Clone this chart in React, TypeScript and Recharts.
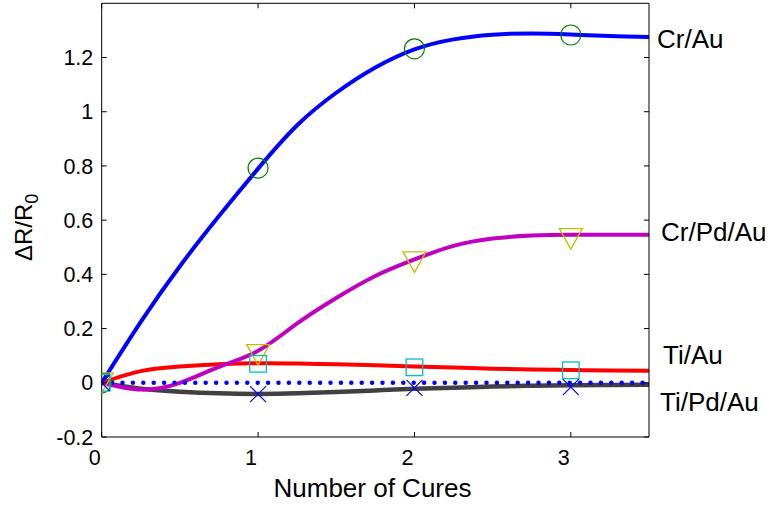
import React from 'react';
import { ComposedChart, Line, Scatter, XAxis, YAxis, ReferenceDot } from 'recharts';

const FONT = '"Liberation Sans", Arial, Helvetica, sans-serif';

// smooth fit curves, sampled every 0.25 cure
const fitX = [0, 0.25, 0.5, 0.75, 1, 1.25, 1.5, 1.75, 2, 2.25, 2.5, 2.75, 3, 3.25, 3.5];
const crAuFit = [0, 0.225, 0.43, 0.615, 0.79, 0.95, 1.07, 1.163, 1.23, 1.267, 1.284, 1.289, 1.285, 1.279, 1.276];
const crPdAuFit = [0, -0.025, 0.0, 0.059, 0.118, 0.219, 0.313, 0.394, 0.455, 0.505, 0.532, 0.543, 0.546, 0.546, 0.546];
const tiAuFit = [0, 0.043, 0.06, 0.068, 0.072, 0.071, 0.068, 0.065, 0.06, 0.056, 0.052, 0.049, 0.047, 0.045, 0.044];
const tiPdAuFit = [0, -0.022, -0.033, -0.039, -0.041, -0.039, -0.034, -0.028, -0.022, -0.018, -0.014, -0.011, -0.009, -0.008, -0.007];
const zeroX = [0, 3.5];
const zeroY = [0, 0];

// measured points
const cureX = [0, 1, 2, 3];
const crAuPts = [0, 0.792, 1.232, 1.283];
const crPdAuPts = [0, 0.104, 0.446, 0.532];
const tiAuPts = [0, 0.07, 0.057, 0.046];
const tiPdAuPts = [0, -0.042, -0.019, -0.016];

const xTicks = [0, 1, 2, 3];
const yTicks = [-0.2, 0, 0.2, 0.4, 0.6, 0.8, 1, 1.2];

const names = ['Cr/Au', 'Cr/Pd/Au', 'Ti/Au', 'Ti/Pd/Au'];
const nameY = [1.27, 0.557, 0.102, -0.072];
const nameDx = [8, 12, 14, 11];

const toRows = (xs: number[], ys: number[]) => xs.map((x, i) => ({ x, y: ys[i] }));

const Circle = (p: any) => <circle cx={p.cx} cy={p.cy} r={10} fill="none" stroke="#008000" strokeWidth={1.2} />;
const TriDown = (p: any) => (
  <polygon
    points={`${p.cx - 11.5},${p.cy - 10} ${p.cx + 11.5},${p.cy - 10} ${p.cx},${p.cy + 10.5}`}
    fill="none"
    stroke="#bfbf00"
    strokeWidth={1.3}
  />
);
const Square = (p: any) => (
  <rect x={p.cx - 8.3} y={p.cy - 8.3} width={16.6} height={16.6} fill="none" stroke="#00bfbf" strokeWidth={1.3} />
);
const Cross = (p: any) => (
  <path
    d={`M${p.cx - 8},${p.cy - 8}L${p.cx + 8},${p.cy + 8}M${p.cx - 8},${p.cy + 8}L${p.cx + 8},${p.cy - 8}`}
    stroke="#0000ff"
    strokeWidth={1.2}
  />
);

const XTitle = () => (
  <text x={372.5} y={497} textAnchor="middle" fontSize={26} fontFamily={FONT} fill="#000">
    Number of Cures
  </text>
);

const YTitle = () => (
  <text transform="translate(32,261) rotate(-90)" fontSize={24} fontFamily={FONT} fill="#000">
    ΔR/R
    <tspan fontSize={18} dy={6}>0</tspan>
  </text>
);

const tickStyle = { fontSize: 21.5, fill: '#000', fontFamily: FONT };
const noLabel = () => '';

const App = (): React.ReactElement => {
  return (
    <div style={{ position: 'absolute', left: 0, top: 0 }}>
      <ComposedChart width={773} height={506} margin={{ top: 2.3, right: 123, left: 0, bottom: 0 }}>
        <XAxis
          xAxisId={0}
          type="number"
          dataKey="x"
          domain={[0, 3.5]}
          ticks={xTicks}
          interval={0}
          allowDataOverflow
          height={69}
          tickSize={-5}
          tickMargin={18}
          tick={{ ...tickStyle, dx: -7 }}
          stroke="#000"
          label={<XTitle />}
        />
        <XAxis
          xAxisId="top"
          orientation="top"
          type="number"
          dataKey="x"
          domain={[0, 3.5]}
          ticks={xTicks}
          interval={0}
          allowDataOverflow
          height={1}
          tickSize={-5}
          tickFormatter={noLabel}
          stroke="#000"
        />
        <YAxis
          yAxisId={0}
          type="number"
          domain={[-0.2, 1.4]}
          ticks={yTicks}
          interval={0}
          allowDataOverflow
          width={101.7}
          tickSize={-5}
          tickMargin={13.4}
          tick={tickStyle}
          stroke="#000"
          label={<YTitle />}
        />
        <YAxis
          yAxisId="right"
          orientation="right"
          type="number"
          domain={[-0.2, 1.4]}
          ticks={yTicks}
          interval={0}
          allowDataOverflow
          width={1}
          tickSize={-5}
          tickFormatter={noLabel}
          stroke="#000"
        />
        <Line data={toRows(fitX, crAuFit)} dataKey="y" type="natural" stroke="#0000ff" strokeWidth={4} dot={false} activeDot={false} isAnimationActive={false} />
        <Line data={toRows(fitX, tiAuFit)} dataKey="y" type="natural" stroke="#ff0000" strokeWidth={4} dot={false} activeDot={false} isAnimationActive={false} />
        <Line data={toRows(fitX, tiPdAuFit)} dataKey="y" type="natural" stroke="#404040" strokeWidth={4.5} dot={false} activeDot={false} isAnimationActive={false} />
        <Line data={toRows(fitX, crPdAuFit)} dataKey="y" type="natural" stroke="#bf00bf" strokeWidth={4} dot={false} activeDot={false} isAnimationActive={false} />
        <Line data={toRows(zeroX, zeroY)} dataKey="y" type="linear" stroke="#0000ff" strokeWidth={4.5} strokeDasharray="0 10.4" strokeLinecap="round" dot={false} activeDot={false} isAnimationActive={false} />
        <Scatter data={toRows(cureX, crAuPts)} dataKey="y" shape={Circle} isAnimationActive={false} />
        <Scatter data={toRows(cureX, crPdAuPts)} dataKey="y" shape={TriDown} isAnimationActive={false} />
        <Scatter data={toRows(cureX, tiAuPts)} dataKey="y" shape={Square} isAnimationActive={false} />
        <Scatter data={toRows(cureX, tiPdAuPts)} dataKey="y" shape={Cross} isAnimationActive={false} />
        {names.map((n, i) => (
          <ReferenceDot
            key={n}
            x={3.5}
            y={nameY[i]}
            r={1}
            fill="none"
            stroke="none"
            ifOverflow="visible"
            label={(props: any) => (
              <text
                x={props.viewBox.x + 1 + nameDx[i]}
                y={props.viewBox.y + 1}
                dominantBaseline="central"
                fontSize={26}
                fontFamily={FONT}
                fill="#000"
              >
                {n}
              </text>
            )}
          />
        ))}
      </ComposedChart>
    </div>
  );
};

export default App;
